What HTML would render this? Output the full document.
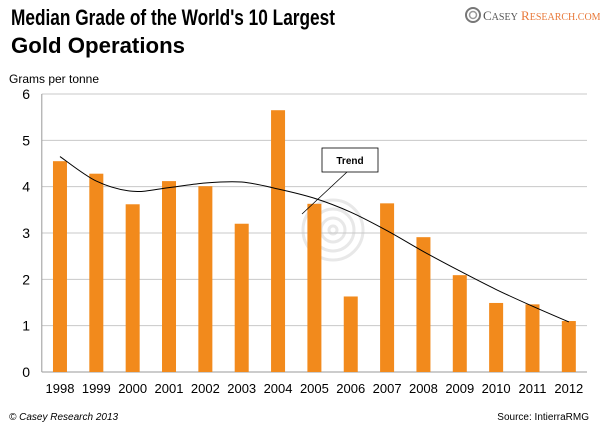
<!DOCTYPE html>
<html><head><meta charset="utf-8"><style>
body{margin:0;background:#fff;}
svg{display:block;font-family:"Liberation Sans",sans-serif;}
</style></head><body>
<svg id="c" width="600" height="429" viewBox="0 0 600 429">
<text x="11" y="25" font-size="22" font-weight="bold" fill="#000" textLength="324" lengthAdjust="spacingAndGlyphs">Median Grade of the World's 10 Largest</text>
<text x="11" y="53" font-size="22" font-weight="bold" fill="#000" textLength="174" lengthAdjust="spacingAndGlyphs">Gold Operations</text>
<g>
<circle cx="473" cy="15" r="7" fill="none" stroke="#777" stroke-width="2"/>
<circle cx="473" cy="15" r="3.5" fill="none" stroke="#999" stroke-width="1.5"/>
<text x="483" y="20" font-family="Liberation Serif,serif" font-size="13" fill="#555">C<tspan font-size="10">ASEY</tspan> <tspan fill="#e8793a">R<tspan font-size="10">ESEARCH.COM</tspan></tspan></text>
</g>
<text x="9" y="83" font-size="12" fill="#000" textLength="90" lengthAdjust="spacingAndGlyphs">Grams per tonne</text>
<g id="wm" fill="none" stroke="#e8e8e8" stroke-width="3">
<circle cx="333" cy="230" r="30"/><circle cx="333" cy="230" r="21"/><circle cx="333" cy="230" r="12"/><circle cx="333" cy="230" r="4"/>
</g>
<g id="grid"></g><g id="bars"></g><g id="trend"></g><g id="xl"></g>
<g>
<line x1="347" y1="172" x2="302" y2="214" stroke="#000" stroke-width="0.8"/>
<rect x="322" y="148" width="56" height="24" fill="#fff" stroke="#000" stroke-width="0.8"/>
<text x="350" y="164" font-size="10" font-weight="bold" text-anchor="middle">Trend</text>
</g>
<text x="9" y="420" font-size="10" font-style="italic">© Casey Research 2013</text>
<text x="589" y="420" font-size="10" text-anchor="end">Source: IntierraRMG</text>
</svg>
<script>
const categories=["1998","1999","2000","2001","2002","2003","2004","2005","2006","2007","2008","2009","2010","2011","2012"];
const grades=[4.55,4.28,3.62,4.12,4.01,3.2,5.65,3.63,1.63,3.64,2.91,2.09,1.49,1.46,1.1];
const trendValues=[4.65,4.12,3.9,3.98,4.08,4.1,3.95,3.75,3.45,3.05,2.6,2.18,1.78,1.42,1.08];
const yTicks=[0,1,2,3,4,5,6];
const NS="http://www.w3.org/2000/svg";
const L=41.8,R=587,T=94,B=372,ymax=6;
const band=(R-L)/categories.length;
const x=i=>L+band*(i+0.5);
const y=v=>B-(v/ymax)*(B-T);
function mk(t,a,p){const e=document.createElementNS(NS,t);for(const k in a)e.setAttribute(k,a[k]);p.appendChild(e);return e;}
const g=document.getElementById('grid');
yTicks.forEach(v=>{
 const ln=mk('line',{x1:L,x2:R,y1:y(v),y2:y(v),stroke:v===0?'#999':'#c8c8c8','stroke-width':1},g);
 
 
 const t=mk('text',{x:30,y:y(v)+5,'font-size':14,'text-anchor':'end'},g);t.textContent=v;
 
 
});
mk('line',{x1:L,x2:L,y1:T,y2:B,stroke:'#999'},g);
const bg=document.getElementById('bars'),xl=document.getElementById('xl');
categories.forEach((c,i)=>{
 const r=mk('rect',{x:x(i)-7,y:y(grades[i]),width:14,height:B-y(grades[i]),fill:'#f28a1c'},bg);
 
 
 const t=mk('text',{x:x(i),y:393,'font-size':13,'text-anchor':'middle'},xl);t.textContent=c;
 
 
});
const pts=trendValues.map((v,i)=>[x(i),y(v)]);
let d='M'+pts[0][0]+','+pts[0][1];
for(let i=0;i<pts.length-1;i++){
 const p0=pts[i-1]||pts[i],p1=pts[i],p2=pts[i+1],p3=pts[i+2]||p2;
 d+=' C'+(p1[0]+(p2[0]-p0[0])/6)+','+(p1[1]+(p2[1]-p0[1])/6)+' '+(p2[0]-(p3[0]-p1[0])/6)+','+(p2[1]-(p3[1]-p1[1])/6)+' '+p2[0]+','+p2[1];
}
const tl=mk('path',{d:d,fill:'none',stroke:'#000','stroke-width':1},document.getElementById('trend'));


</script>
</body></html>
